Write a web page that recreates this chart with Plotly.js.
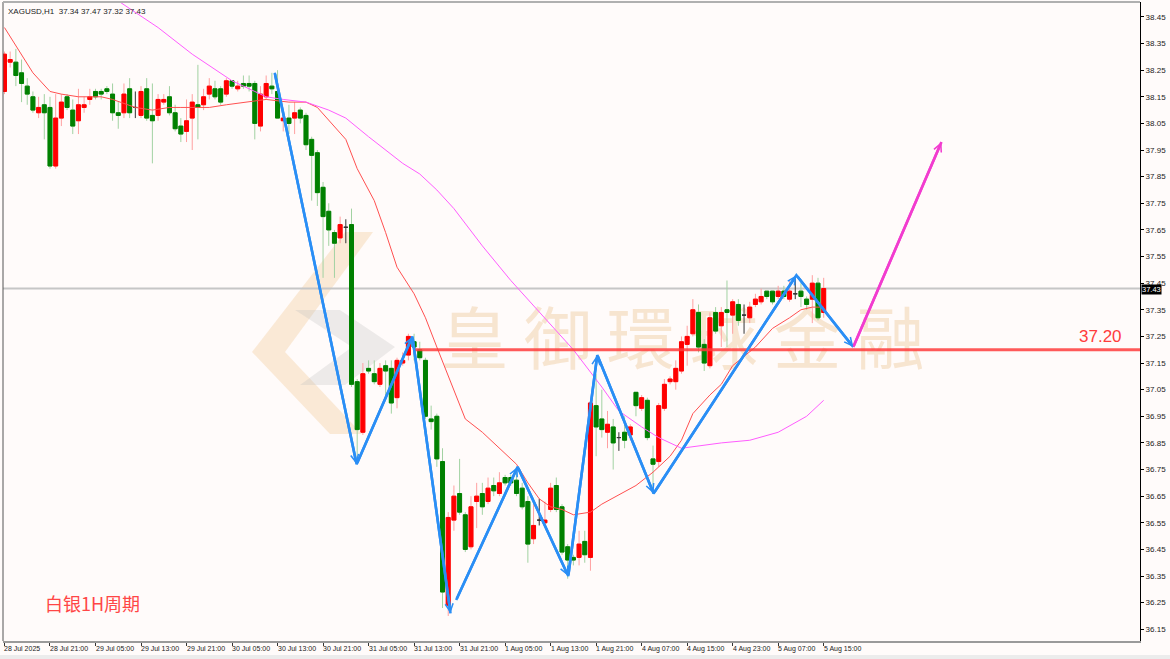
<!DOCTYPE html>
<html><head><meta charset="utf-8">
<script src="https://cdn.plot.ly/plotly-3.0.1.min.js"></script>
<style>html,body{margin:0;padding:0;background:#fffbfa;} #chart{width:1170px;height:659px;}</style>
</head><body><div id="chart"></div>
<script>
// ---------- DATA ----------
const symbol = 'XAGUSD,H1';
const open = [38.17,38.28,38.28,38.24,38.19,38.15,38.09,38.12,38.11,37.89,38.07,38.15,38.10,38.06,38.11,38.14,38.17,38.17,38.18,38.16,
38.09,38.09,38.18,38.11,38.08,38.18,38.08,38.08,38.13,38.15,38.09,38.04,38.02,38.07,38.12,38.12,38.16,38.18,38.18,38.16,
38.21,38.18,38.20,38.20,38.20,38.04,38.15,38.19,38.17,38.06,38.07,38.07,38.10,38.08,37.99,37.94,37.81,37.72,37.64,37.62,
37.66,37.67,37.08,36.89,37.13,37.11,37.07,37.14,37.13,37.02,37.15,37.18,37.23,37.20,37.16,36.94,36.95,36.78,36.24,36.56,
36.66,36.58,36.46,36.63,36.66,36.63,36.69,36.66,36.72,36.72,36.71,36.68,36.63,36.49,36.56,36.55,36.60,36.69,36.61,36.46,
36.42,36.42,36.48,36.42,36.99,36.94,36.89,36.91,36.87,36.89,36.88,37.04,36.98,37.01,36.79,36.78,36.98,37.08,37.08,37.12,
37.22,37.26,37.34,37.22,37.14,37.34,37.29,37.35,37.33,37.37,37.33,37.32,37.37,37.38,37.42,37.42,37.40,37.42,37.39,37.41,
37.42,37.39,37.39,37.45,37.34];
const high = [38.32,38.32,38.33,38.29,38.22,38.17,38.15,38.16,38.15,38.16,38.16,38.16,38.14,38.18,38.15,38.18,38.18,38.18,38.19,38.20,
38.13,38.20,38.22,38.17,38.19,38.22,38.20,38.16,38.16,38.19,38.12,38.07,38.14,38.16,38.27,38.18,38.22,38.21,38.19,38.22,
38.21,38.21,38.23,38.23,38.21,38.19,38.23,38.24,38.25,38.09,38.12,38.13,38.11,38.09,38.00,37.95,37.83,37.75,37.65,37.70,
37.69,37.73,37.09,37.15,37.16,37.16,37.15,37.16,37.16,37.17,37.19,37.26,37.26,37.23,37.17,36.99,36.96,36.83,36.59,36.69,
36.79,36.59,36.65,36.70,36.70,36.72,36.72,36.74,36.73,36.73,36.76,36.70,36.65,36.62,36.64,36.63,36.70,36.72,36.62,36.47,
36.43,36.52,36.52,37.00,37.11,37.05,36.97,36.94,36.89,36.95,36.92,37.04,37.03,37.02,36.84,37.00,37.09,37.10,37.16,37.25,
37.29,37.39,37.37,37.24,37.34,37.36,37.36,37.46,37.39,37.39,37.37,37.38,37.41,37.43,37.42,37.42,37.44,37.44,37.46,37.47,
37.45,37.40,37.48,37.47,37.47];
const low = [38.16,38.26,38.19,38.13,38.12,38.09,38.07,37.99,37.88,37.88,38.04,38.10,38.01,38.01,38.09,38.12,38.14,38.14,38.16,38.06,
38.03,38.07,38.07,38.07,38.07,38.06,37.90,38.06,38.12,38.08,38.02,37.98,37.98,37.95,37.99,38.10,38.14,38.14,38.12,38.15,
38.18,38.17,38.18,38.17,37.99,38.02,38.14,38.16,38.07,38.02,38.01,38.01,38.05,37.95,37.76,37.74,37.47,37.59,37.47,37.60,
37.60,37.06,36.77,36.88,37.11,37.07,37.06,37.02,36.96,36.98,37.14,37.16,37.16,37.16,36.94,36.90,36.76,36.23,36.20,36.52,
36.58,36.44,36.45,36.53,36.58,36.62,36.65,36.65,36.69,36.69,36.65,36.60,36.40,36.47,36.54,36.54,36.59,36.59,36.43,36.34,
36.39,36.39,36.40,36.37,36.80,36.87,36.83,36.75,36.82,36.83,36.86,36.95,36.97,36.86,36.66,36.76,36.97,37.07,37.05,37.11,
37.14,37.25,37.19,37.12,37.13,37.26,37.21,37.21,37.26,37.29,37.26,37.30,37.36,37.37,37.39,37.37,37.39,37.39,37.38,37.39,
37.36,37.35,37.30,37.31,37.32];
const close = [38.31,38.29,38.23,38.20,38.16,38.10,38.11,38.09,37.89,38.07,38.13,38.11,38.04,38.12,38.12,38.15,38.15,38.16,38.17,38.09,
38.08,38.16,38.09,38.11,38.17,38.07,38.06,38.14,38.14,38.09,38.03,38.01,38.06,38.13,38.11,38.15,38.19,38.15,38.13,38.21,
38.19,38.19,38.19,38.19,38.05,38.16,38.20,38.18,38.07,38.07,38.05,38.09,38.07,37.97,37.93,37.79,37.70,37.65,37.60,37.67,
37.66,37.07,36.90,37.11,37.12,37.08,37.13,37.12,37.00,37.16,37.16,37.25,37.21,37.17,36.95,36.93,36.79,36.29,36.57,36.65,
36.59,36.45,36.61,36.65,36.61,36.68,36.67,36.70,36.70,36.70,36.66,36.61,36.47,36.54,36.56,36.56,36.68,36.60,36.44,36.41,
36.41,36.47,36.43,37.00,36.91,36.90,36.92,36.85,36.87,36.86,36.91,36.99,37.02,36.87,36.77,36.99,37.07,37.09,37.13,37.23,
37.25,37.35,37.21,37.15,37.32,37.27,37.34,37.34,37.38,37.31,37.33,37.36,37.39,37.40,37.40,37.38,37.42,37.40,37.42,37.41,
37.40,37.37,37.45,37.32,37.43];

// time labels, one every 8 bars starting at bar 0
const timeLabels = ['28 Jul 2025','28 Jul 21:00','29 Jul 05:00','29 Jul 13:00','29 Jul 21:00','30 Jul 05:00','30 Jul 13:00',
'30 Jul 21:00','31 Jul 05:00','31 Jul 13:00','31 Jul 21:00','1 Aug 05:00','1 Aug 13:00','1 Aug 21:00','4 Aug 07:00',
'4 Aug 15:00','4 Aug 23:00','5 Aug 07:00','5 Aug 15:00'];
const labelStep = 8;

// moving averages (bar index, price)
const maFastIdx = [0,3,5,8,10,13,17,19,23,26,29,31,36,39,43,46,50,53,55,58,60,62,65,67,69,72,74,76,81,84,90,92,94,96,98,100,103,105,111,114,117,119,121,124,126,128,132,135,138,140,142,144];
const maFastVal = [38.41,38.31,38.24,38.17,38.16,38.15,38.15,38.14,38.11,38.10,38.11,38.11,38.11,38.12,38.13,38.14,38.13,38.13,38.11,38.04,37.99,37.88,37.76,37.64,37.51,37.41,37.32,37.21,36.94,36.89,36.77,36.70,36.64,36.61,36.60,36.58,36.59,36.62,36.69,36.74,36.80,36.86,36.96,37.03,37.07,37.14,37.21,37.28,37.32,37.35,37.36,37.36];
const maSlowIdx = [20,27,33,40,44,46,49,53,57,60,64,67,70,73,76,79,84,89,94,100,105,108,112,115,119,126,131,136,141,144];
const maSlowVal = [38.51,38.41,38.31,38.21,38.17,38.15,38.14,38.13,38.10,38.07,38.00,37.95,37.90,37.86,37.80,37.73,37.59,37.46,37.34,37.20,37.06,36.97,36.91,36.87,36.83,36.85,36.86,36.89,36.95,37.01];

// hand-drawn wave lines (bar index, price)
const waveAIdx = [47.5,61.9,71.7,78.4];
const waveAPrice = [38.24,36.77,37.25,36.21];
const waveBIdx = [79.4,90.2,99.1,104.2,114.1,139.2,149.2];
const waveBPrice = [36.26,36.76,36.35,37.18,36.66,37.48,37.21];
const forecastIdx = [149.2,164.7];
const forecastPrice = [37.21,37.98];

const supportLevel = 37.20;
const supportStartIdx = 72;
const bidPrice = close[close.length-1];
const watermark = '皇 御 環 球 金 融';
const caption = '白银1H周期';

// ---------- BUILD ----------
const xRange = [-0.26, 199.6];
const yRange = [36.106, 38.506];
const W = 1170, H = 659, M = {l:3, r:30, t:2, b:18};
const pw = W - M.l - M.r, ph = H - M.t - M.b;
const px = x => (x - M.l) / pw;            // pixel -> paper (styling only)
const py = y => 1 - (y - M.t) / ph;

const ids = open.map((_, i) => i);
const isDoji = i => open[i] === close[i];
const reg = ids.filter(i => !isDoji(i));
const dj = ids.filter(isDoji);
const pick = (a, s) => s.map(i => a[i]);

const GREEN = '#008000', RED = '#ff0000';
const wick = {
  type:'candlestick', x:reg, open:pick(open,reg), high:pick(high,reg), low:pick(low,reg), close:pick(close,reg),
  increasing:{line:{color:'#ffa0a0', width:1}, fillcolor:'#ffa0a0'},
  decreasing:{line:{color:'#a2d2a2', width:1}, fillcolor:'#a2d2a2'},
  whiskerwidth:0, hoverinfo:'skip', showlegend:false
};
const body = {
  type:'candlestick', x:reg, open:pick(open,reg), close:pick(close,reg),
  high:reg.map(i => Math.max(open[i], close[i])), low:reg.map(i => Math.min(open[i], close[i])),
  increasing:{line:{color:RED, width:1}, fillcolor:RED},
  decreasing:{line:{color:GREEN, width:1}, fillcolor:GREEN},
  whiskerwidth:0, hoverinfo:'skip', showlegend:false
};
const doji = {
  type:'candlestick', x:dj, open:pick(open,dj), high:pick(high,dj), low:pick(low,dj), close:pick(close,dj),
  increasing:{line:{color:'#333', width:1}, fillcolor:'#333'},
  decreasing:{line:{color:'#333', width:1}, fillcolor:'#333'},
  whiskerwidth:0, hoverinfo:'skip', showlegend:false
};
const maFast = {type:'scatter', mode:'lines', x:maFastIdx, y:maFastVal, line:{color:'#ff5050', width:1}, hoverinfo:'skip', showlegend:false};
const maSlow = {type:'scatter', mode:'lines', x:maSlowIdx, y:maSlowVal, line:{color:'#ff5cff', width:1}, hoverinfo:'skip', showlegend:false};
const BLUE = '#2a8ef5', PINK = '#f23ccf';
const waveA = {type:'scatter', mode:'lines', x:waveAIdx, y:waveAPrice, line:{color:BLUE, width:2.6}, hoverinfo:'skip', showlegend:false};
const waveB = {type:'scatter', mode:'lines', x:waveBIdx, y:waveBPrice, line:{color:BLUE, width:2.6}, hoverinfo:'skip', showlegend:false};
const fore = {type:'scatter', mode:'lines', x:forecastIdx, y:forecastPrice, line:{color:PINK, width:2.6}, hoverinfo:'skip', showlegend:false};

const annotations = [];
function arrows(xs, ys, color) {
  for (let k = 0; k + 1 < xs.length; k++) {
    annotations.push({x:xs[k+1], y:ys[k+1], ax:xs[k], ay:ys[k], xref:'x', yref:'y', axref:'x', ayref:'y',
      showarrow:true, arrowhead:5, arrowsize:0.6, arrowwidth:2.6, arrowcolor:color, text:'', standoff:0, startstandoff:0});
  }
}
arrows(waveAIdx, waveAPrice, BLUE);
arrows(waveBIdx, waveBPrice, BLUE);
arrows(forecastIdx, forecastPrice, PINK);

const tickFont = {family:'Liberation Sans, Arial, sans-serif', size:8, color:'#222'};
const xFont = {family:'Liberation Sans, Arial, sans-serif', size:7, color:'#222'};
timeLabels.forEach((t, k) => annotations.push({x:k*labelStep, y:0, xref:'x', yref:'paper', yanchor:'top', xanchor:'left',
  xshift:-2, yshift:-2, text:t, showarrow:false, font:xFont}));

const n = open.length - 1;
annotations.push({x:0, y:1, xref:'paper', yref:'paper', xanchor:'left', yanchor:'top', xshift:3, yshift:-3, showarrow:false,
  text:symbol + '  ' + [open[n], high[n], low[n], close[n]].map(v => v.toFixed(2)).join(' '), font:tickFont});
annotations.push({x:1, y:bidPrice, xref:'paper', yref:'y', xanchor:'left', yanchor:'middle', xshift:1, yshift:-1, showarrow:false,
  text:bidPrice.toFixed(2), bgcolor:'#000', borderpad:0,
  font:{family:'Liberation Sans, Arial, sans-serif', size:7.5, color:'#fff'}});
annotations.push({x:px(1100), y:supportLevel, xref:'paper', yref:'y', xanchor:'center', yanchor:'bottom', yshift:2, showarrow:false,
  text:supportLevel.toFixed(2), font:{family:'Liberation Sans, Arial, sans-serif', size:17, color:'#ff3c3c'}});
annotations.push({x:px(43), y:py(603), xref:'paper', yref:'paper', xanchor:'left', yanchor:'middle', showarrow:false,
  text:caption, font:{family:'Noto Sans CJK SC, sans-serif', size:18, color:'#ff4646'}});

const poly = pts => 'M' + pts.map(p => px(p[0]) + ',' + py(p[1])).join('L') + 'Z';
const BEIGE = 'rgba(238,196,140,0.32)', GREY = 'rgba(190,190,190,0.28)';
const shapes = [
  {type:'path', xref:'paper', yref:'paper', layer:'below', line:{width:0}, fillcolor:BEIGE,
   path:poly([[252,352],[345,232],[373,232],[285,352]])},
  {type:'path', xref:'paper', yref:'paper', layer:'below', line:{width:0}, fillcolor:BEIGE,
   path:poly([[252,352],[285,352],[362,434],[330,434]])},
  {type:'path', xref:'paper', yref:'paper', layer:'below', line:{width:0}, fillcolor:GREY,
   path:poly([[295,310],[340,310],[395,347],[345,385],[300,385],[352,347]])},
  {type:'rect', xref:'paper', yref:'paper', layer:'below', x0:px(430), x1:px(935), y0:py(395), y1:py(295),
   line:{width:0}, fillcolor:'rgba(0,0,0,0)',
   label:{text:watermark, textposition:'middle center',
     font:{family:'Noto Sans CJK TC, Noto Sans CJK SC, sans-serif', size:68, color:'rgba(236,198,150,0.42)'}}},
  {type:'line', xref:'paper', yref:'y', x0:0, x1:1, y0:bidPrice, y1:bidPrice, layer:'below', line:{color:'#c6c6c6', width:2}},
  {type:'line', xref:'x', yref:'y', x0:supportStartIdx, x1:xRange[1], y0:supportLevel, y1:supportLevel, layer:'above',
   line:{color:'rgba(255,60,60,0.85)', width:3}},
  {type:'line', xref:'paper', yref:'paper', x0:0, x1:0, y0:0, y1:1, line:{color:'#555', width:1}},
  {type:'line', xref:'paper', yref:'paper', x0:0, x1:1, y0:1, y1:1, line:{color:'#b0b0b0', width:2}},
  {type:'rect', xref:'paper', yref:'paper', x0:-0.01, x1:1.03, y0:py(659), y1:py(655), line:{width:0}, fillcolor:'#ececec'}
];

const layout = {
  width:W, height:H, margin:M, paper_bgcolor:'#fffbfa', plot_bgcolor:'#fffbfa', showlegend:false, hovermode:false,
  boxgap:0.3, boxgroupgap:0,
  xaxis:{range:xRange, rangeslider:{visible:false}, showgrid:false, zeroline:false, showline:true, linecolor:'#9a9a9a', linewidth:2,
    tickmode:'array', tickvals:timeLabels.map((_, k) => k*labelStep), showticklabels:false, ticks:'outside', ticklen:3, tickcolor:'#333'},
  yaxis:{range:yRange, side:'right', showgrid:false, zeroline:false, showline:true, linecolor:'#000', linewidth:1,
    tickmode:'linear', tick0:36.15, dtick:0.1, tickformat:'.2f', ticks:'outside', ticklen:3, tickcolor:'#000', tickfont:tickFont},
  shapes:shapes, annotations:annotations
};
Plotly.newPlot('chart', [wick, body, doji, maFast, maSlow, waveA, waveB, fore], layout, {displayModeBar:false, staticPlot:true});
</script></body></html>
